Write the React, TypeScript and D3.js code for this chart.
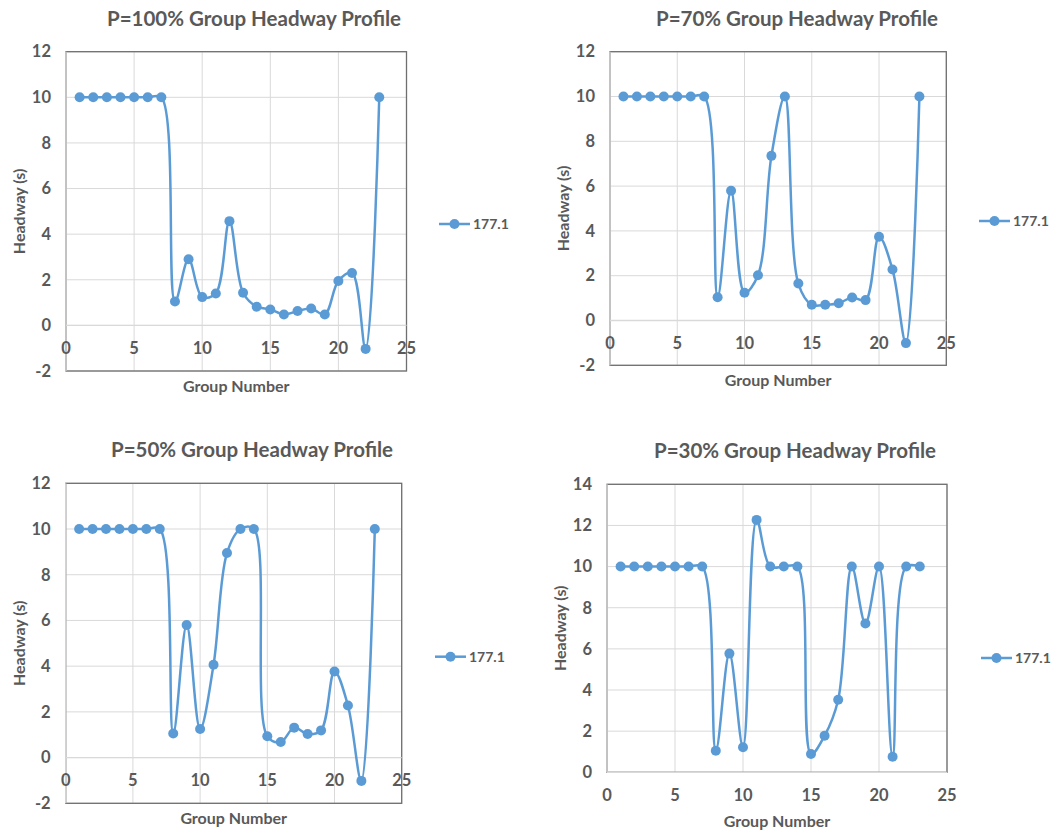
import React from "react";
import * as d3 from "d3";

// Group numbers along the horizontal axis
const groups = [1, 2, 3, 4, 5, 6, 7, 8, 9, 10, 11, 12, 13, 14, 15, 16, 17, 18, 19, 20, 21, 22, 23];

// Headway (s) per group for each penetration rate
const headwayP100 = [10, 10, 10, 10, 10, 10, 10, 1.05, 2.9, 1.24, 1.4, 4.57, 1.43, 0.82, 0.7, 0.48, 0.63, 0.74, 0.48, 1.95, 2.3, -1.03, 10];
const headwayP70 = [10, 10, 10, 10, 10, 10, 10, 1.04, 5.79, 1.24, 2.02, 7.35, 10, 1.65, 0.7, 0.7, 0.77, 1.03, 0.91, 3.74, 2.28, -1.01, 10];
const headwayP50 = [10, 10, 10, 10, 10, 10, 10, 1.05, 5.8, 1.25, 4.06, 8.95, 10, 10, 0.93, 0.68, 1.31, 1.03, 1.19, 3.77, 2.28, -1.02, 10];
const headwayP30 = [10, 10, 10, 10, 10, 10, 10, 1.05, 5.77, 1.22, 12.27, 10, 10, 10, 0.89, 1.78, 3.53, 10, 7.23, 10, 0.76, 10, 10];

const seriesName = "177.1";
const titles = [
  "P=100% Group Headway Profile",
  "P=70% Group Headway Profile",
  "P=50% Group Headway Profile",
  "P=30% Group Headway Profile",
];
const xTicks = [0, 5, 10, 15, 20, 25];
const yTicksA = [-2, 0, 2, 4, 6, 8, 10, 12];
const yTicksB = [0, 2, 4, 6, 8, 10, 12, 14];

const BLUE = "#5b9bd5";
const TEXT = "#595959";
const GRID = "#d9d9d9";
const BORDER = "#6f6f6f";
const FONT = "Lato, 'Open Sans', sans-serif";

type Panel = {
  title: string;
  values: number[];
  yTicks: number[];
  left: number;
  right: number;
  top: number;
  bottom: number;
  titleX: number;
  titleY: number;
  yTitleX: number;
  xTitleY: number;
  legendX: number;
  legendY: number;
};

const panels: Panel[] = [
  { title: titles[0], values: headwayP100, yTicks: yTicksA, left: 66, right: 406.5, top: 51.7, bottom: 371, titleX: 254, titleY: 26, yTitleX: 19, xTitleY: 392, legendX: 439, legendY: 224 },
  { title: titles[1], values: headwayP70, yTicks: yTicksA, left: 610, right: 946.3, top: 51.7, bottom: 365.3, titleX: 797, titleY: 26, yTitleX: 563, xTitleY: 386, legendX: 979, legendY: 221 },
  { title: titles[2], values: headwayP50, yTicks: yTicksA, left: 65.7, right: 401.7, top: 483.3, bottom: 803.3, titleX: 252, titleY: 457, yTitleX: 19, xTitleY: 824, legendX: 435, legendY: 656.7 },
  { title: titles[3], values: headwayP30, yTicks: yTicksB, left: 607, right: 947, top: 484.3, bottom: 772.3, titleX: 795, titleY: 458, yTitleX: 560, xTitleY: 827, legendX: 981, legendY: 658 },
];

function Chart({ p }: { p: Panel }) {
  const x = d3.scaleLinear().domain([0, 25]).range([p.left, p.right]);
  const yMin = p.yTicks[0];
  const yMax = p.yTicks[p.yTicks.length - 1];
  const y = d3.scaleLinear().domain([yMin, yMax]).range([p.bottom, p.top]);
  const points: [number, number][] = groups.map((g, i) => [x(g), y(p.values[i])]);
  const line = d3.line().curve(d3.curveCatmullRom.alpha(0.5))(points) || "";
  const y0 = y(Math.max(0, yMin));
  const midX = (p.left + p.right) / 2;
  const midY = (p.top + p.bottom) / 2;

  return (
    <g>
      <text x={p.titleX} y={p.titleY} textAnchor="middle" fontSize={20.5} fontWeight={700} fill={TEXT}>
        {p.title}
      </text>
      {/* gridlines */}
      {p.yTicks.map((t) => (
        <line key={"gy" + t} x1={p.left} x2={p.right} y1={y(t)} y2={y(t)} stroke={GRID} strokeWidth={1} />
      ))}
      {xTicks.map((t) => (
        <line key={"gx" + t} x1={x(t)} x2={x(t)} y1={p.top} y2={p.bottom} stroke={GRID} strokeWidth={1} />
      ))}
      {/* plot area border */}
      <rect x={p.left} y={p.top} width={p.right - p.left} height={p.bottom - p.top} fill="none" stroke={BORDER} strokeWidth={1.3} />
      {/* axis lines */}
      <line x1={p.left} x2={p.right} y1={y0} y2={y0} stroke={GRID} strokeWidth={1.3} />
      <line x1={p.left} x2={p.left} y1={p.top} y2={p.bottom} stroke={GRID} strokeWidth={1.3} />
      {/* tick labels */}
      {p.yTicks.map((t) => (
        <text key={"ly" + t} x={p.left - 15} y={y(t)} dy="0.35em" textAnchor="end" fontSize={16.5} fontWeight={700} fill={TEXT}>
          {t}
        </text>
      ))}
      {xTicks.map((t) => (
        <text key={"lx" + t} x={x(t)} y={y0 + 23} dy="0.35em" textAnchor="middle" fontSize={16.5} fontWeight={700} fill={TEXT}>
          {t}
        </text>
      ))}
      {/* axis titles */}
      <text transform={`translate(${p.yTitleX},${midY}) rotate(-90)`} textAnchor="middle" dy="0.35em" fontSize={16} fontWeight={700} fill={TEXT}>
        Headway (s)
      </text>
      <text x={midX} y={p.xTitleY} textAnchor="middle" fontSize={16} fontWeight={700} fill={TEXT}>
        Group Number
      </text>
      {/* series */}
      <path d={line} fill="none" stroke={BLUE} strokeWidth={2.5} strokeLinejoin="round" />
      {points.map(([px, py], i) => (
        <circle key={"m" + i} cx={px} cy={py} r={5} fill={BLUE} />
      ))}
      {/* legend */}
      <line x1={p.legendX} x2={p.legendX + 31} y1={p.legendY} y2={p.legendY} stroke={BLUE} strokeWidth={2.5} />
      <circle cx={p.legendX + 15.5} cy={p.legendY} r={5} fill={BLUE} />
      <text x={p.legendX + 34} y={p.legendY} dy="0.35em" fontSize={14} fontWeight={700} fill={TEXT}>
        {seriesName}
      </text>
    </g>
  );
}

export default function App() {
  return (
    <svg
      width={1062}
      height={832}
      style={{ position: "absolute", left: 0, top: 0, background: "#fff" }}
      fontFamily={FONT}
    >
      <rect width={1062} height={832} fill="#fff" />
      {panels.map((p, i) => (
        <Chart key={i} p={p} />
      ))}
    </svg>
  );
}
